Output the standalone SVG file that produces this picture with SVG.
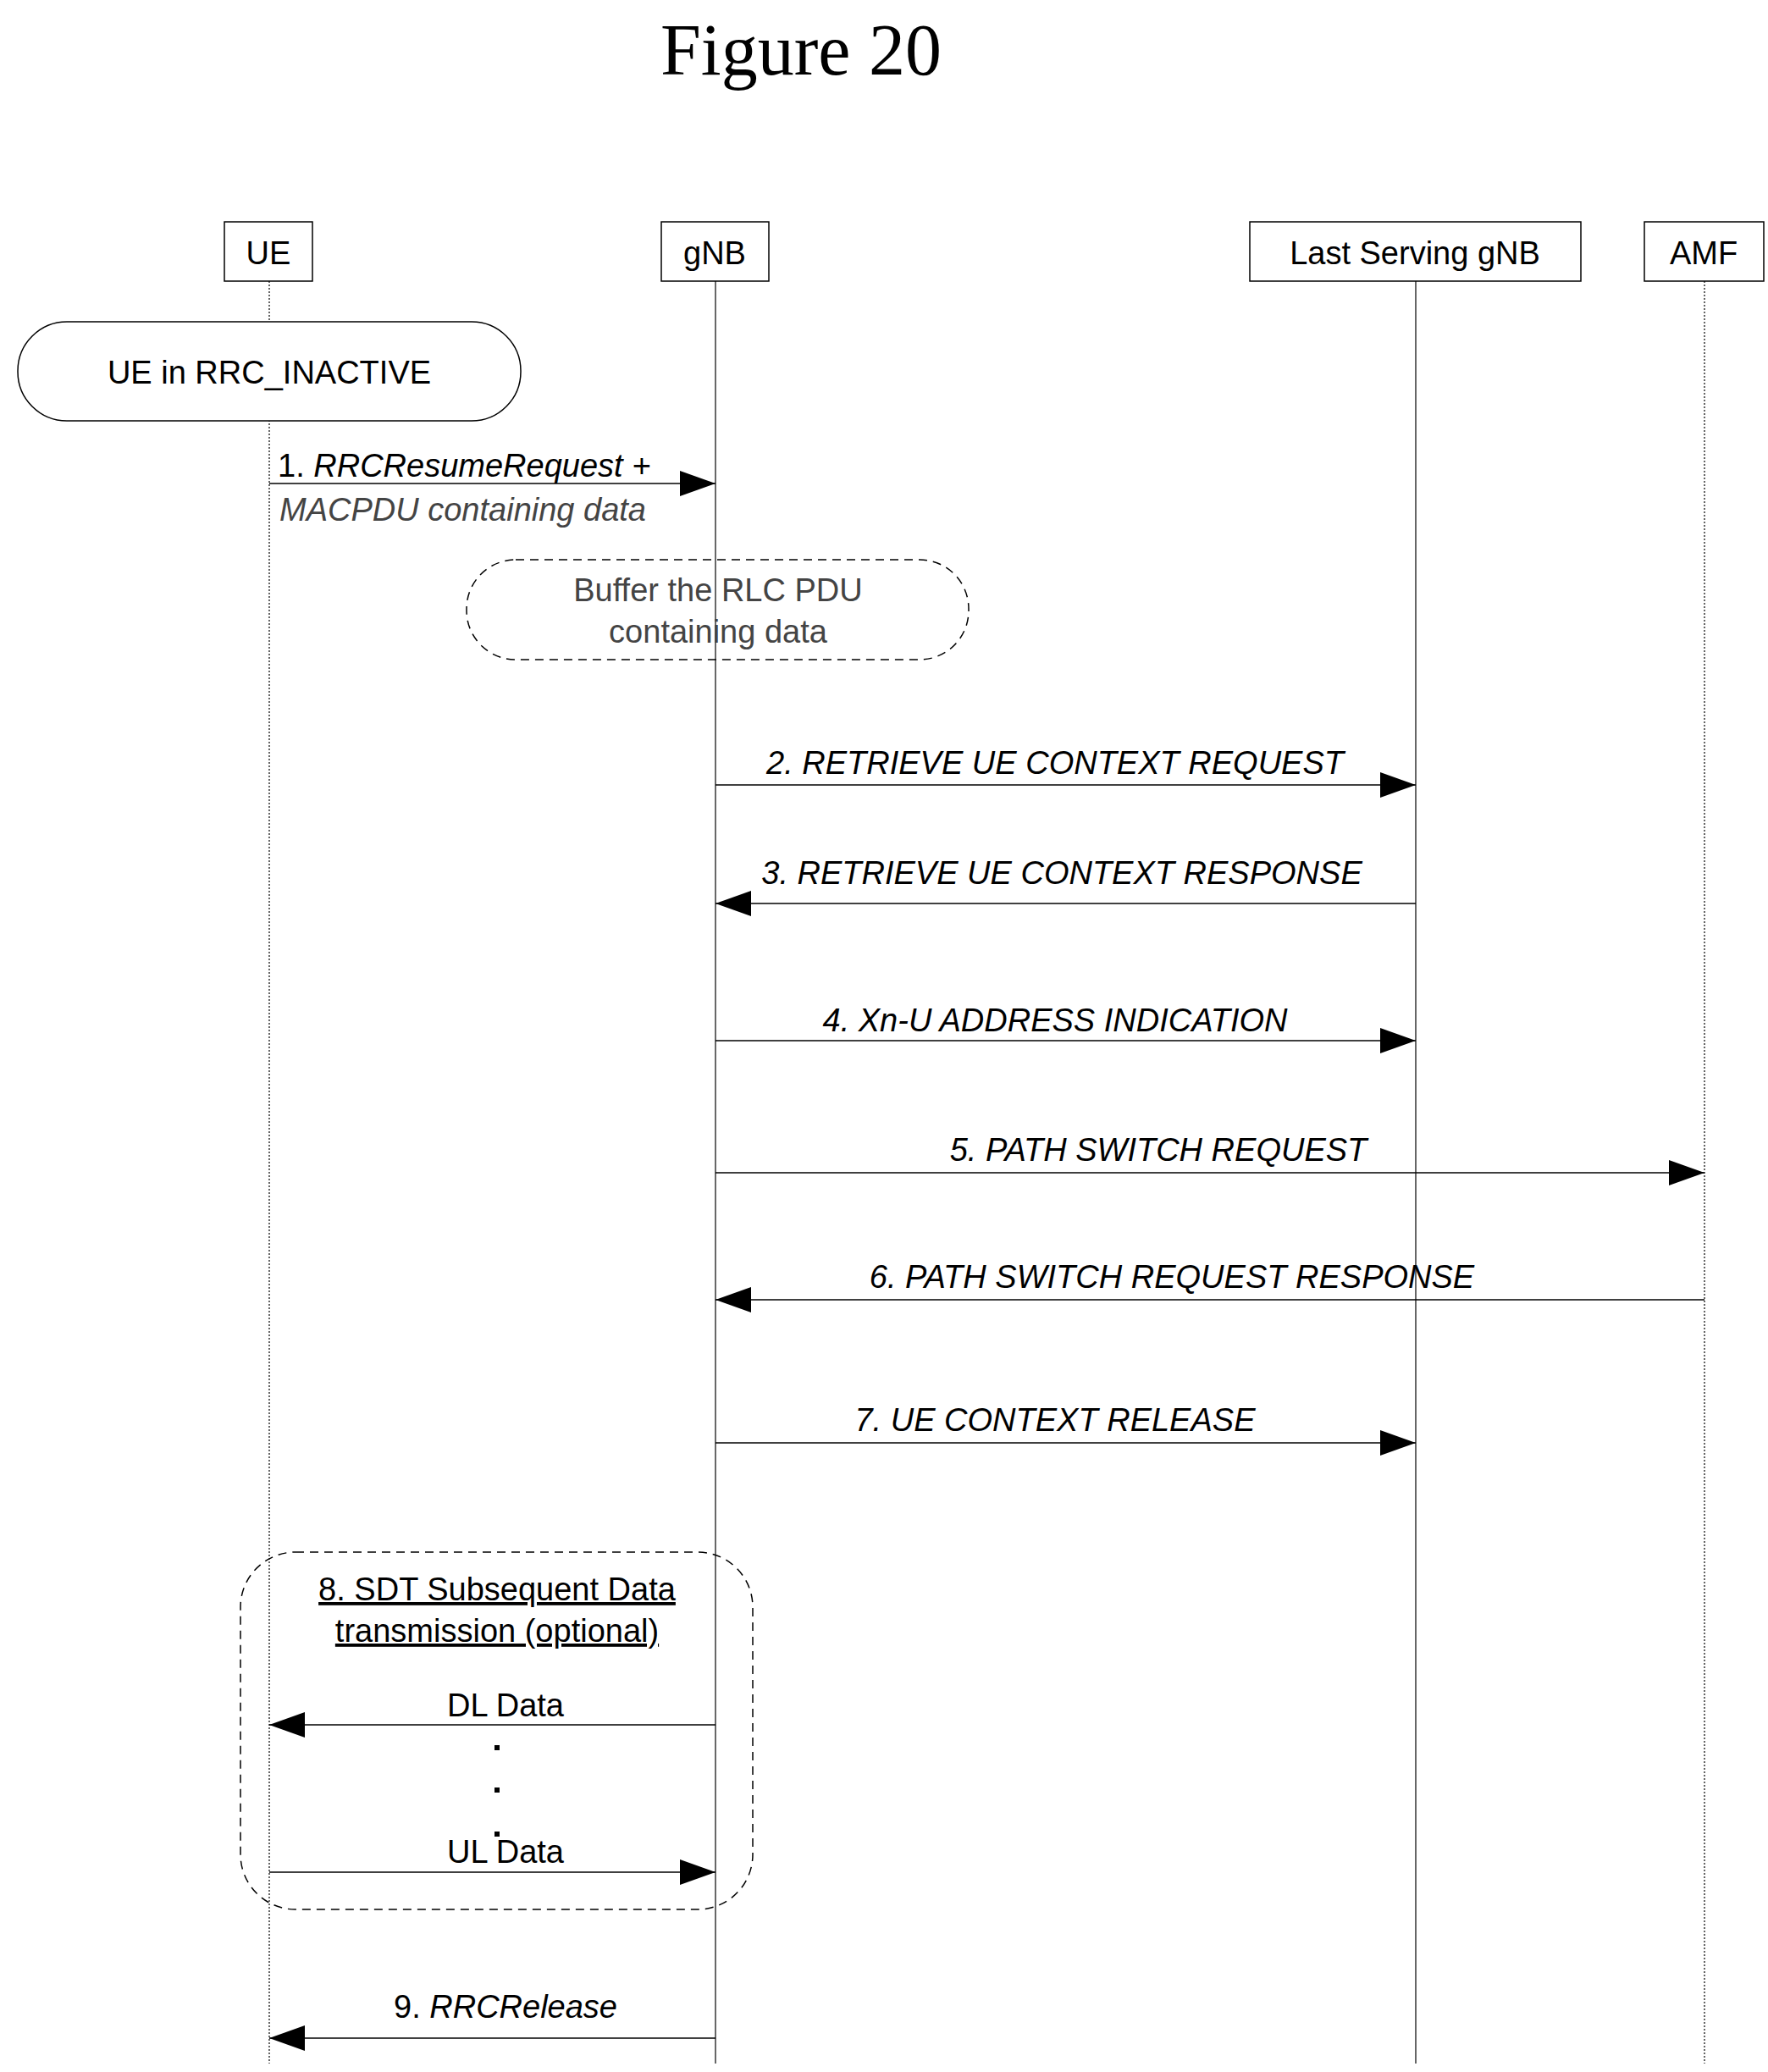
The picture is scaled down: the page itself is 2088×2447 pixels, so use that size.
<svg xmlns="http://www.w3.org/2000/svg" width="2088" height="2447" viewBox="0 0 2088 2447">
<style>
text{font-family:"Liberation Sans",Arial,sans-serif;font-size:38px;fill:#000}
.t{font-family:"Liberation Serif","Times New Roman",serif;font-size:86px}
.i{font-style:italic}
.g{fill:#444}
.box{fill:#fff;stroke:#000;stroke-width:1.5}
.ll{stroke:#000;stroke-width:1.2;fill:none}
.dot{stroke-dasharray:2 2}
.m{stroke:#000;stroke-width:1.5;fill:none;marker-end:url(#ah)}
.dash{fill:none;stroke:#000;stroke-width:1.5;stroke-dasharray:10 7}
</style>
<defs><marker id="ah" markerUnits="userSpaceOnUse" markerWidth="44" markerHeight="32" refX="42" refY="15" orient="auto"><path d="M0,0 L42,15 L0,30 Z" fill="#000"/></marker></defs>
<text class="t" x="946" y="88" text-anchor="middle">Figure 20</text>
<g id="UE"><line class="ll dot" x1="318" y1="332" x2="318" y2="2437"/><rect class="box" x="265" y="262" width="104" height="70"/><text x="317" y="312" text-anchor="middle">UE</text></g>
<g id="gNB"><line class="ll" x1="845" y1="332" x2="845" y2="2437"/><rect class="box" x="781" y="262" width="127" height="70"/><text x="844" y="312" text-anchor="middle">gNB</text></g>
<g id="LastServing"><line class="ll" x1="1672" y1="332" x2="1672" y2="2437"/><rect class="box" x="1476" y="262" width="391" height="70"/><text x="1671" y="312" text-anchor="middle">Last Serving gNB</text></g>
<g id="AMF"><line class="ll dot" x1="2013" y1="332" x2="2013" y2="2437"/><rect class="box" x="1942" y="262" width="141" height="70"/><text x="2012" y="312" text-anchor="middle">AMF</text></g>
<g id="inactive"><rect class="box" x="21" y="380" width="594" height="117" rx="58"/><text x="318" y="453" text-anchor="middle">UE in RRC_INACTIVE</text></g>
<g id="buffer"><rect x="551" y="661" width="593" height="118" rx="58" class="dash" fill="#fff"/><text class="g" x="848" y="710" text-anchor="middle">Buffer the RLC PDU</text><text class="g" x="848" y="759" text-anchor="middle">containing data</text></g>
<g id="sdt"><rect x="284" y="1833" width="605" height="422" rx="65" class="dash"/><text x="587" y="1890" text-anchor="middle" text-decoration="underline">8. SDT Subsequent Data</text><text x="587" y="1939" text-anchor="middle" text-decoration="underline">transmission (optional)</text>
<rect x="584" y="2061" width="6" height="6"/><rect x="584" y="2111" width="6" height="6"/><rect x="584" y="2163" width="6" height="6"/></g>
<g id="connectors">
<path class="m" d="M318,571 H845"/>
<path class="m" d="M845,927 H1672"/>
<path class="m" d="M1672,1067 H845"/>
<path class="m" d="M845,1229 H1672"/>
<path class="m" d="M845,1385 H2013"/>
<path class="m" d="M2013,1535 H845"/>
<path class="m" d="M845,1704 H1672"/>
<path class="m" d="M845,2037 H318"/>
<path class="m" d="M318,2211 H845"/>
<path class="m" d="M845,2407 H318"/>
</g>
<g id="labels">
<text x="328" y="563">1. <tspan class="i">RRCResumeRequest +</tspan></text>
<text class="i g" x="330" y="615">MACPDU containing data</text>
<text class="i" x="1246" y="914" text-anchor="middle">2. RETRIEVE UE CONTEXT REQUEST</text>
<text class="i" x="1254" y="1044" text-anchor="middle">3. RETRIEVE UE CONTEXT RESPONSE</text>
<text class="i" x="1246" y="1218" text-anchor="middle">4. Xn-U ADDRESS INDICATION</text>
<text class="i" x="1368" y="1371" text-anchor="middle">5. PATH SWITCH REQUEST</text>
<text class="i" x="1384" y="1521" text-anchor="middle">6. PATH SWITCH REQUEST RESPONSE</text>
<text class="i" x="1246" y="1690" text-anchor="middle">7. UE CONTEXT RELEASE</text>
<text x="597" y="2027" text-anchor="middle">DL Data</text>
<text x="597" y="2200" text-anchor="middle">UL Data</text>
<text x="597" y="2383" text-anchor="middle">9. <tspan class="i">RRCRelease</tspan></text>
</g>
</svg>
